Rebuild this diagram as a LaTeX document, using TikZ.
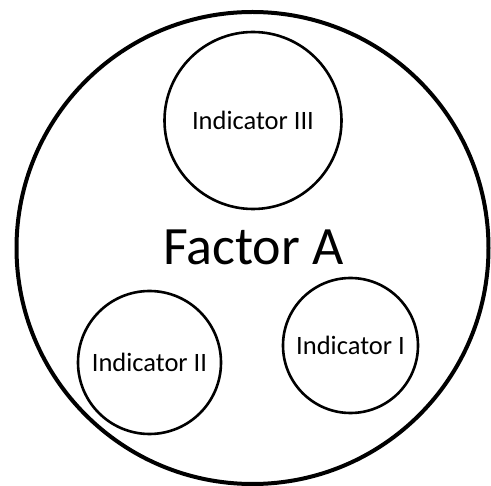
\documentclass[tikz,border=0pt]{standalone}
\usepackage{fontspec}
\setmainfont{Carlito}
\usetikzlibrary{positioning}

\begin{document}
\begin{tikzpicture}[x=1pt, y=-1pt,
  factor/.style={draw, circle, line width=4pt, minimum size=472pt, inner sep=0pt},
  indicator/.style={draw, circle, line width=2.6pt, inner sep=0pt, font=\fontsize{26.5}{30}\selectfont},
  label/.style={inner sep=0pt, font=\fontsize{54}{60}\selectfont}]

  \useasboundingbox (0,0) rectangle (491,486);

  % Outer circle
  \node[factor] (F) at (252.5,248) {};
  \node[label] (FA) at (253.5,247.5) {Factor A};

  % Indicators
  \node[indicator, minimum size=177pt] (I3) at (253,120.5) {Indicator III};
  \node[indicator, minimum size=143pt] (I2) at (149.5,362.5) {Indicator II};
  \node[indicator, minimum size=135pt] (I1) at (350.5,345.5) {Indicator I};

\end{tikzpicture}
\end{document}
